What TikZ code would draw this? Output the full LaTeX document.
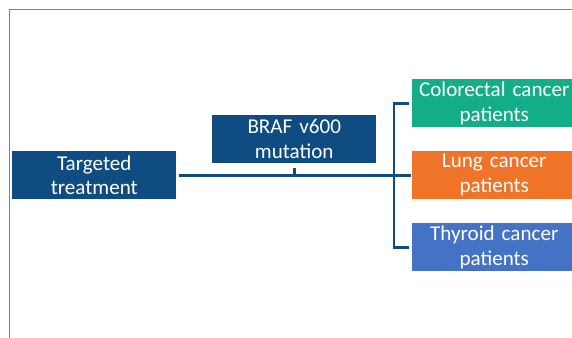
\documentclass[tikz,border=0pt]{standalone}
\usepackage{fontspec}
\setmainfont{Carlito}
\usetikzlibrary{positioning}

\definecolor{navy}{HTML}{0F4C81}
\definecolor{colgreen}{HTML}{13AE87}
\definecolor{lungorange}{HTML}{F07427}
\definecolor{thyblue}{HTML}{4472C4}

\tikzset{
  box/.style={rectangle, text=white, inner sep=0pt, anchor=north west,
    minimum width=4.92cm, minimum height=1.44cm, text width=4.8cm, align=center,
    font=\fontsize{18}{21.3}\selectfont},
  link/.style={draw=navy, line width=2.2pt},
  frame/.style={draw=gray, line width=1.2pt}
}

\begin{document}
\begin{tikzpicture}[x=0.03cm, y=-0.03cm]

  \useasboundingbox (0,0) rectangle (572,337);
  \clip (0,0) rectangle (572,337);
  \draw[frame] (9.5,340) -- (9.5,9.5) -- (575,9.5);

  % Define nodes
  \node[box, fill=navy] (treat) at (12,151) {Targeted\\treatment};
  \node[box, fill=navy] (braf) at (212,115) {BRAF v600\\mutation};
  \node[box, fill=colgreen] (colo) at (412,79) {Colorectal cancer\\patients};
  \node[box, fill=lungorange] (lung) at (412,151) {Lung cancer\\patients};
  \node[box, fill=thyblue] (thy) at (412,223) {Thyroid cancer\\patients};

  % Connect the nodes
  \draw[link] ([xshift=0.09cm]treat.east) -- ([xshift=-0.03cm]lung.west);
  \draw[link] ([yshift=-0.15cm]braf.south) -- (braf.south |- treat.east);
  \draw[link] ([xshift=-0.09cm]colo.west) -- ++(-15,0) |- ([xshift=-0.09cm]thy.west);

\end{tikzpicture}
\end{document}
